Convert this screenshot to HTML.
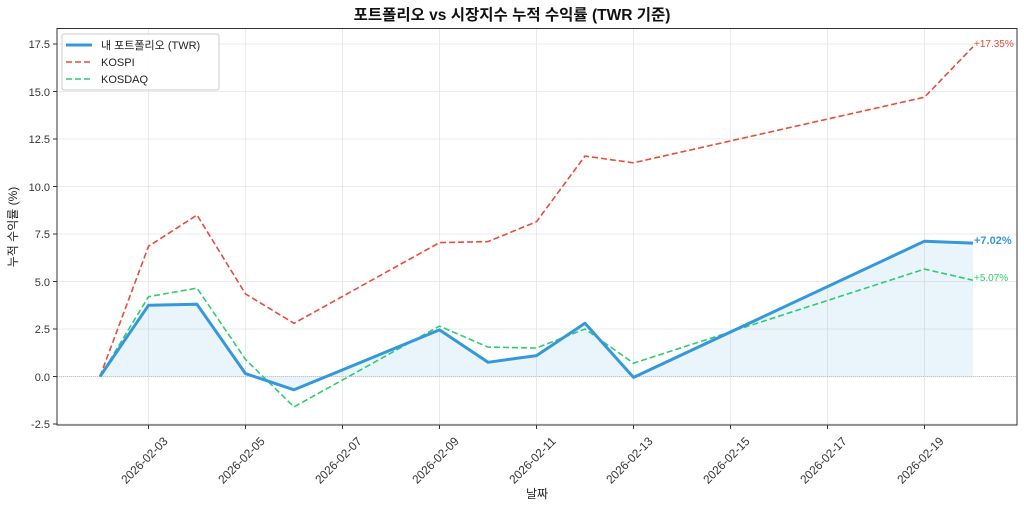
<!DOCTYPE html>
<html><head><meta charset="utf-8"><style>
html,body{margin:0;padding:0;background:#fff;}
svg{display:block;font-family:"Liberation Sans","Noto Sans CJK KR",sans-serif;}
</style></head><body>
<svg id="s" width="1024" height="511" viewBox="0 0 1024 511">
<rect width="1024" height="511" fill="#fff"/>
<g id="grid" stroke="#e5e5e5" stroke-width="0.8"></g>
<path id="fill" fill="#3498db" fill-opacity="0.11" stroke="none"/>
<line x1="57" x2="1017" y1="376.5" y2="376.5" stroke="#bbb" stroke-width="0.8" stroke-dasharray="1,1"/>
<path id="kospi" fill="none" stroke="#e74c3c" stroke-width="1.6" stroke-dasharray="6,3"/>
<path id="kosdaq" fill="none" stroke="#2ecc71" stroke-width="1.6" stroke-dasharray="6,3"/>
<path id="pf" fill="none" stroke="#3498db" stroke-width="3" stroke-linejoin="round"/>
<rect x="57" y="28.5" width="960" height="396.5" fill="none" stroke="#333" stroke-width="1"/>
<g id="ticks" stroke="#333" stroke-width="1"></g>
<g font-size="11" fill="#333" text-anchor="end">
<text x="50" y="48">17.5</text><text x="50" y="96">15.0</text><text x="50" y="143">12.5</text>
<text x="50" y="191">10.0</text><text x="50" y="238">7.5</text><text x="50" y="286">5.0</text>
<text x="50" y="333">2.5</text><text x="50" y="381">0.0</text><text x="50" y="428">-2.5</text>
</g>
<g id="xl" font-size="12" fill="#333" text-anchor="end"></g>
<text x="512" y="20" font-size="15.5" font-weight="bold" text-anchor="middle" fill="#111">포트폴리오 vs 시장지수 누적 수익률 (TWR 기준)</text>
<text x="537" y="498" font-size="12" text-anchor="middle" fill="#222">날짜</text>
<text transform="translate(17,227) rotate(-90)" font-size="12" text-anchor="middle" fill="#222">누적 수익률 (%)</text>
<text x="974" y="47" font-size="10" fill="#e74c3c">+17.35%</text>
<text x="974" y="244" font-size="11" font-weight="bold" fill="#3498db">+7.02%</text>
<text x="974" y="281" font-size="10" fill="#2ecc71">+5.07%</text>
<rect x="62" y="34" width="157" height="56" rx="2" fill="#fff" fill-opacity="0.85" stroke="#ccc"/>
<line x1="66" x2="92" y1="45" y2="45" stroke="#3498db" stroke-width="3"/>
<line x1="66" x2="92" y1="62" y2="62" stroke="#e74c3c" stroke-width="1.6" stroke-dasharray="6,3"/>
<line x1="66" x2="92" y1="79" y2="79" stroke="#2ecc71" stroke-width="1.6" stroke-dasharray="6,3"/>
<g font-size="11" fill="#222"><text x="101" y="49">내 포트폴리오 (TWR)</text><text x="101" y="66">KOSPI</text><text x="101" y="83">KOSDAQ</text></g>
</svg>
<script>
var X=function(d){return 100+(d-2)*48.5},Y=function(v){return 376.5-v*19};
var D=[2,3,4,5,6,9,10,11,12,13,19,20];
var pf=[0,3.75,3.8,0.15,-0.7,2.45,0.75,1.1,2.8,-0.05,7.12,7.02];
var ks=[0,6.85,8.5,4.35,2.8,7.05,7.1,8.15,11.6,11.25,14.7,17.35];
var kq=[0,4.2,4.65,0.9,-1.6,2.65,1.55,1.5,2.5,0.7,5.65,5.07];
function p(a){return D.map(function(d,i){return(i?'L':'M')+X(d).toFixed(1)+' '+Y(a[i]).toFixed(1)}).join(' ')}
document.getElementById('pf').setAttribute('d',p(pf));
document.getElementById('kospi').setAttribute('d',p(ks));
document.getElementById('kosdaq').setAttribute('d',p(kq));
document.getElementById('fill').setAttribute('d',p(pf)+' L'+X(20)+' '+Y(0)+' L'+X(2)+' '+Y(0)+' Z');
var g=document.getElementById('grid'),t=document.getElementById('ticks'),xl=document.getElementById('xl'),ns='http://www.w3.org/2000/svg';
function ln(par,a,b,c,d){var l=document.createElementNS(ns,'line');l.setAttribute('x1',a);l.setAttribute('y1',b);l.setAttribute('x2',c);l.setAttribute('y2',d);par.appendChild(l);}
for(var v=-2.5;v<=17.6;v+=2.5){var y=Y(v);ln(g,57,y,1017,y);ln(t,53,y,57,y);}
for(var d=3;d<=19;d+=2){var x=X(d);ln(g,x,28.5,x,425);ln(t,x,425,x,429);
var tx=document.createElementNS(ns,'text');tx.setAttribute('transform','translate('+(x+20)+',442) rotate(-45)');tx.setAttribute('textLength','60');tx.setAttribute('lengthAdjust','spacingAndGlyphs');tx.textContent='2026-02-'+(d<10?'0':'')+d;xl.appendChild(tx);}
</script>
</body></html>
